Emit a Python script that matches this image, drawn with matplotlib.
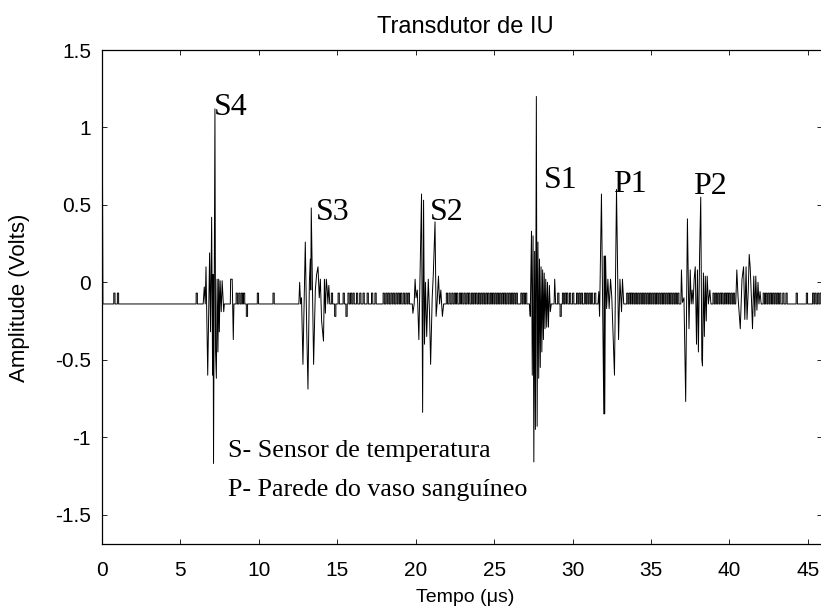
import numpy as np
import matplotlib
matplotlib.use("Agg")
import matplotlib.pyplot as plt

# levels of the quantised baseline noise (Volts)
BASE = -0.14
HIGH = -0.07

# initial excitation at t = 0
start_t = [0.0, 0.06]
start_v = [1.6, BASE]

# echo bursts (t in us, amplitude in V)
s4_t = [6.45, 6.52, 6.58, 6.63, 6.74, 6.86, 6.92, 6.99, 7.05, 7.08, 7.11, 7.20,
        7.24, 7.29, 7.34, 7.39, 7.44, 7.48, 7.53, 7.60, 7.66, 7.76, 7.80, 8.18,
        8.20, 8.30, 8.33, 8.37, 8.41]
s4_v = [BASE, -0.03, BASE, 0.10, -0.60, 0.19, -0.32, 0.42, -0.60, 0.05, -1.17, 1.12,
        -0.45, -0.62, 0.02, -0.45, 0.02, -0.32, 0.01, -0.19, 0.01, -0.19, BASE, BASE,
        0.02, 0.02, BASE, -0.37, BASE]

s3_t = [12.55, 12.60, 12.66, 12.72, 12.81, 12.96, 13.05, 13.13, 13.22, 13.28, 13.31,
        13.34, 13.49, 13.60, 13.68, 13.77, 13.85, 13.92, 14.00, 14.12, 14.18, 14.24,
        14.30, 14.36, 14.40, 14.46, 14.52]
s3_v = [BASE, 0.0, BASE, -0.10, -0.53, 0.26, -0.30, -0.69, 0.0, 0.15, -0.05,
        0.48, -0.53, -0.05, 0.05, 0.10, -0.10, 0.02, -0.25, -0.38, 0.02, -0.20,
        0.02, -0.05, BASE, -0.02, BASE]

s2_t = [19.78, 19.82, 19.90, 19.96, 20.02, 20.10, 20.20, 20.30, 20.37, 20.44, 20.50,
        20.56, 20.62, 20.70, 20.80, 20.88, 20.95, 21.05, 21.12, 21.23, 21.30, 21.36,
        21.45, 21.52, 21.60, 21.70, 21.78]
s2_v = [BASE, -0.20, BASE, 0.02, -0.10, -0.05, -0.37, 0.20, 0.57, -0.84, 0.53,
        -0.40, 0.0, -0.35, 0.02, -0.20, -0.53, -0.10, 0.05, 0.39, -0.22, BASE,
        0.04, BASE, -0.05, -0.22, BASE]

s1_t = [27.25, 27.30, 27.38, 27.43, 27.48, 27.53, 27.58, 27.63, 27.69, 27.74, 27.79,
        27.84, 27.89, 27.94, 27.99, 28.04, 28.09, 28.14, 28.19, 28.24, 28.29, 28.35,
        28.40, 28.46, 28.52, 28.58, 28.64, 28.82, 28.86, 28.92]
s1_v = [BASE, -0.22, 0.33, -0.60, 0.30, -1.16, 0.20, -0.95, 1.20, -0.93, 0.26,
        -0.62, 0.15, -0.55, 0.10, -0.45, 0.08, -0.37, 0.06, -0.30, 0.02, -0.29,
        0.0, -0.29, -0.02, -0.19, BASE, BASE, 0.02, BASE]

p1_t = [31.62, 31.67, 31.72, 31.84, 31.99, 32.02, 32.05, 32.10, 32.17, 32.25, 32.33,
        32.42, 32.50, 32.67, 32.80, 32.93, 33.02, 33.12, 33.18, 33.26]
p1_v = [BASE, -0.06, -0.22, 0.57, -0.85, 0.17, -0.85, 0.17, -0.17, 0.02, -0.17,
        0.02, -0.10, -0.60, 0.60, -0.37, 0.02, -0.19, 0.02, BASE]

p2_t = [36.90, 36.94, 37.00, 37.10, 37.21, 37.32, 37.42, 37.50, 37.56, 37.62, 37.68,
        37.75, 37.82, 37.90, 37.96, 38.02, 38.10, 38.17, 38.24, 38.28, 38.34, 38.40,
        38.46, 38.52, 38.58, 38.66, 38.75, 38.82]
p2_v = [BASE, 0.08, -0.13, -0.10, -0.77, 0.41, -0.30, 0.08, BASE, -0.05, BASE,
        0.02, 0.10, -0.40, 0.08, -0.45, 0.20, 0.55, -0.50, -0.54, 0.06, -0.35,
        0.04, -0.25, 0.04, BASE, -0.05, BASE]

p3_t = [40.40, 40.47, 40.55, 40.69, 40.80, 40.90, 40.98, 41.06, 41.12, 41.20, 41.26,
        41.32, 41.40, 41.47, 41.55, 41.62, 41.68, 41.75, 41.82, 41.88, 41.95, 42.02]
p3_v = [BASE, 0.08, -0.10, -0.30, 0.02, 0.10, -0.24, 0.10, -0.24, -0.05, 0.18,
        0.10, -0.10, -0.30, 0.04, -0.22, 0.04, -0.18, 0.0, BASE, -0.06, BASE]

# one-sample noise blips on the baseline
up_pulses = [0.75, 0.98, 6.0, 8.55, 8.72, 8.88, 9.02, 9.9, 10.9,
             14.62, 15.05, 15.37, 15.68, 15.84, 16.0, 16.22, 16.43, 16.64, 16.9,
             17.18, 17.4, 17.92, 18.09, 18.24, 18.41, 18.56, 18.73, 18.88, 19.03,
             19.2, 19.37, 19.52,
             21.95, 22.12, 22.3, 22.46, 22.6, 22.78, 22.92, 23.08, 23.25, 23.38,
             23.55, 23.7, 23.84, 24.0, 24.15, 24.3, 24.46, 24.6, 24.76, 24.9,
             25.05, 25.2, 25.35, 25.5, 25.64, 25.8, 25.95, 26.1, 26.25, 26.4,
             26.7, 26.85, 27.0,
             29.05, 29.35, 29.5, 29.62, 29.8, 30.0, 30.25, 30.4, 30.55, 30.75,
             30.9, 31.05, 31.2, 31.4,
             33.45, 33.6, 33.72, 33.85, 34.0, 34.15, 34.3, 34.45, 34.6, 34.75,
             34.9, 35.05, 35.2, 35.35, 35.5, 35.65, 35.8, 35.95, 36.1, 36.25,
             36.4, 36.55, 36.7,
             38.95, 39.1, 39.25, 39.4, 39.52, 39.68, 39.82, 39.95, 40.1, 40.25,
             42.15, 42.3, 42.45, 42.6, 42.75, 42.9, 43.05, 43.2, 43.4, 43.6,
             44.25, 44.9, 45.3, 45.45, 45.62, 45.78]
down_t = [9.2, 14.83, 15.55, 29.2]
down_v = [-0.22, -0.22, -0.22, -0.22]

end_t = [45.95]

labels = ["S4", "S3", "S2", "S1", "P1", "P2"]
label_t = [7.16, 13.62, 20.9, 28.2, 32.6, 37.66]
label_v = [1.13, 0.45, 0.45, 0.66, 0.63, 0.62]

notes = ["S- Sensor de temperatura", "P- Parede do vaso sanguíneo"]


def build_trace():
    segs = [(start_t, start_v)]
    for bt, bv in [(s4_t, s4_v), (s3_t, s3_v), (s2_t, s2_v), (s1_t, s1_v),
                   (p1_t, p1_v), (p2_t, p2_v), (p3_t, p3_v)]:
        segs.append((bt, bv))
    w = 0.08
    for t in up_pulses:
        segs.append(([t, t, t + w, t + w], [BASE, HIGH, HIGH, BASE]))
    for t, v in zip(down_t, down_v):
        segs.append(([t, t, t + w, t + w], [BASE, v, v, BASE]))
    segs.append((end_t, [BASE]))
    segs.sort(key=lambda s: s[0][0])
    t = np.concatenate([np.asarray(s[0], float) for s in segs])
    v = np.concatenate([np.asarray(s[1], float) for s in segs])
    return t, v


t, v = build_trace()

W, H = 821, 612
fig = plt.figure(figsize=(W / 100, H / 100), dpi=100)
ax = fig.add_axes([102 / W, (H - 544) / H, (822 - 102) / W, (544 - 50) / H])

ax.plot(t, v, color="black", lw=0.7)

ax.set_xlim(0, 45.9)
ax.set_ylim(-1.69, 1.5)
ax.set_xticks(np.arange(0, 46, 5))
ax.set_yticks([-1.5, -1, -0.5, 0, 0.5, 1, 1.5])
ax.set_yticklabels(["-1.5", "-1", "-0.5", "0", "0.5", "1", "1.5"])
ax.tick_params(direction="in", top=True, right=True, length=3.5, width=0.6,
               labelsize=15)
ax.tick_params(axis="x", pad=12)
ax.tick_params(axis="y", pad=8)
for lab in ax.get_xticklabels() + ax.get_yticklabels():
    lab.set_family("Liberation Sans")
for s in ax.spines.values():
    s.set_linewidth(0.9)

for name, lt, lv in zip(labels, label_t, label_v):
    ax.text(lt, lv, name, family="Liberation Serif", fontsize=23,
            ha="left", va="center")
ax.text(8.06, -1.09, notes[0], family="Liberation Serif", fontsize=18.7,
        ha="left", va="center")
ax.text(8.06, -1.34, notes[1], family="Liberation Serif", fontsize=18.7,
        ha="left", va="center")

fig.text(465 / W, 1 - 27 / H, "Transdutor de IU", family="Liberation Sans",
         fontsize=17, ha="center", va="center")
fig.text(465 / W, 1 - 597 / H, "Tempo (\u03bcs)", family="Liberation Sans",
         fontsize=14, ha="center", va="center")
fig.text(20 / W, 1 - 298 / H, "Amplitude (Volts)", family="Liberation Sans",
         fontsize=16, ha="center", va="center", rotation=90)

fig.savefig("out.png", dpi=100)
